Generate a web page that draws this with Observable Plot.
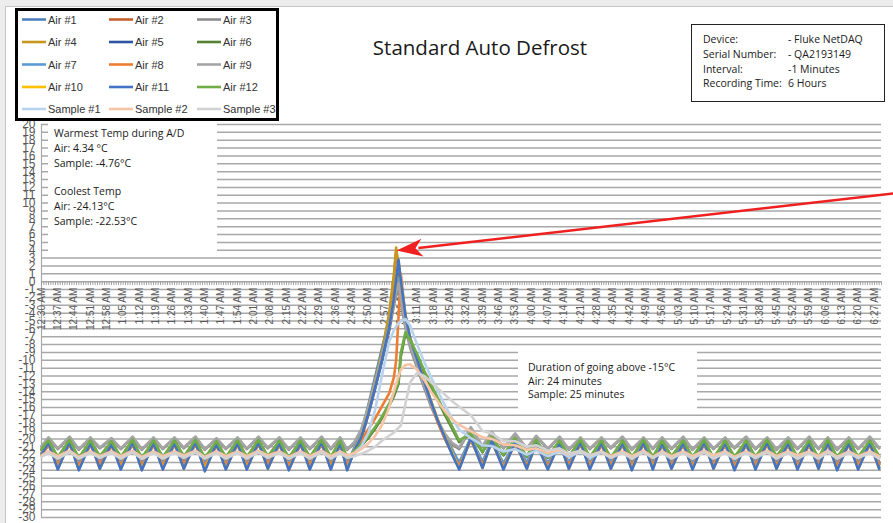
<!DOCTYPE html>
<html><head><meta charset="utf-8">
<script src="https://cdn.jsdelivr.net/npm/d3@7"></script>
<script src="https://cdn.jsdelivr.net/npm/@observablehq/plot@0.6"></script>
<style>
html,body{margin:0;padding:0;background:#ececec;}
#wrap{position:relative;width:893px;height:523px;overflow:hidden;background:#ececec;}
#card{position:absolute;left:5px;top:6px;width:900px;height:600px;background:#fff;border:1px solid #c4c4c4;}
#chart{position:absolute;left:0;top:0;}
</style></head><body>
<div id="wrap"><div id="card"></div><div id="chart"></div></div>
<script>
// minutes after 12:30 AM at which values were read (peaks, troughs, defrost points)
const minutes = [0,3,7,12,16,21,25,30,34,39,43,48,52,57,61,66,70,75,79,84,88,93,97,102,106,111,115,120,124,128,131,
  134,137,140,143,146,149,151,152,153,154,156,158,161,164,167,170,173,176,
  179,184,189,193,198,203,208,212,217,222,226,231,235,240,244,249,253,258,262,266,270,275,279,284,288,293,297,302,306,311,315,320,324,329,333,337,341,346,350,355,359];

const seriesNames = ["Air #1","Air #2","Air #3","Air #4","Air #5","Air #6","Air #7","Air #8","Air #9","Air #10","Air #11","Air #12","Sample #1","Sample #2","Sample #3"];
const seriesColors = ["#4f81bd","#c65f2c","#8c8c8c","#c8961e","#2e54a0","#548235","#5b9bd5","#ed7d31","#a5a5a5","#ffc000","#4472c4","#70ad47","#b9d3ee","#f7c4a6","#d2d2d2"];

const air1 = [-21.9, -20.6,-23.3, -20.5,-23.4, -20.6,-23.2, -20.7,-23.3, -20.5,-23.4, -20.6,-23.3, -20.6,-23.2, -20.5,-23.4, -20.7,-23.3, -20.6,-23.3, -20.5,-23.2, -20.6,-23.4, -20.6,-23.3, -20.5,-23.3, -20.6,-23.4,
  -21.3,-19.2,-15.8,-12.1,-8.4,-4.6,-1.9,-0.3,0.9,-1.6,-5.2,-7.8,-10.4,-13.0,-15.6,-17.9,-19.9,-21.6,
  -23.3, -19.9,-23.2, -20.2,-23.4, -20.4,-23.3, -20.5,-23.4, -20.6,-23.3, -20.5,-23.4, -20.6,-23.3, -20.6,-23.4, -20.5,-23.3, -20.6,-23.3, -20.6,-23.4, -20.5,-23.3, -20.6,-23.4, -20.6,-23.3, -20.5,-23.3, -20.6,-23.4, -20.6,-23.3, -20.5,-23.4, -20.6,-23.3, -20.6,-23.2];
const air2 = [-22.0, -20.8,-23.1, -20.7,-23.2, -20.8,-23.0, -20.9,-23.1, -20.7,-23.2, -20.8,-23.1, -20.8,-23.0, -20.7,-23.2, -20.9,-23.1, -20.8,-23.1, -20.7,-23.0, -20.8,-23.2, -20.8,-23.1, -20.7,-23.1, -20.8,-23.2,
  -21.4,-19.8,-16.6,-12.9,-9.2,-4.4,0.4,3.9,1.8,-1.8,-5.0,-7.6,-10.2,-12.9,-15.5,-17.9,-19.9,-21.5,
  -23.1, -20.1,-23.0, -20.4,-23.2, -20.6,-23.1, -20.7,-23.2, -20.8,-23.1, -20.7,-23.2, -20.8,-23.1, -20.8,-23.2, -20.7,-23.1, -20.8,-23.1, -20.8,-23.2, -20.7,-23.1, -20.8,-23.2, -20.8,-23.1, -20.7,-23.1, -20.8,-23.2, -20.8,-23.1, -20.7,-23.2, -20.8,-23.1, -20.8,-23.0];
const air3 = [-21.0, -19.9,-21.3, -19.8,-21.4, -19.9,-21.2, -20.0,-21.3, -19.8,-21.4, -19.9,-21.3, -19.9,-21.2, -19.8,-21.4, -20.0,-21.3, -19.9,-21.3, -19.8,-21.2, -19.9,-21.4, -19.9,-21.3, -19.8,-21.3, -19.9,-21.4,
  -20.6,-19.3,-16.6,-13.3,-9.9,-6.3,-3.1,-1.7,-0.6,-2.6,-5.9,-8.4,-11.0,-13.5,-15.9,-17.9,-19.6,-20.7,
  -21.3, -18.6,-21.0, -19.2,-21.2, -19.4,-21.3, -19.7,-21.3, -19.8,-21.4, -19.9,-21.3, -19.9,-21.2, -19.8,-21.4, -19.9,-21.3, -19.9,-21.3, -19.8,-21.4, -19.9,-21.3, -19.9,-21.2, -19.8,-21.3, -19.9,-21.4, -19.9,-21.3, -19.8,-21.3, -19.9,-21.4, -19.9,-21.3, -19.8,-21.2];
const air4 = [-21.8, -20.5,-23.4, -20.4,-23.5, -20.5,-23.3, -20.6,-23.4, -20.4,-23.5, -20.5,-23.4, -20.5,-23.3, -20.4,-23.5, -20.6,-23.4, -20.5,-23.4, -20.4,-23.3, -20.5,-23.5, -20.5,-23.4, -20.4,-23.4, -20.5,-23.5,
  -21.2,-19.5,-16.2,-12.5,-8.8,-4.0,0.8,4.34,2.0,-1.6,-4.9,-7.5,-10.0,-12.7,-15.3,-17.7,-19.7,-21.3,
  -23.4, -19.8,-23.3, -20.1,-23.5, -20.3,-23.4, -20.4,-23.5, -20.5,-23.4, -20.4,-23.5, -20.5,-23.4, -20.5,-23.5, -20.4,-23.4, -20.5,-23.4, -20.5,-23.5, -20.4,-23.4, -20.5,-23.5, -20.5,-23.4, -20.4,-23.4, -20.5,-23.5, -20.5,-23.4, -20.4,-23.5, -20.5,-23.4, -20.5,-23.3];
const air5 = [-22.0, -20.5,-23.7, -20.4,-23.8, -20.5,-23.6, -20.6,-23.7, -20.4,-23.8, -20.5,-23.7, -20.5,-23.6, -20.4,-23.8, -20.6,-23.7, -20.5,-23.7, -20.4,-23.6, -20.5,-23.8, -20.5,-23.7, -20.4,-23.7, -20.5,-23.8,
  -21.6,-20.0,-17.0,-13.6,-10.0,-6.0,-2.4,0.0,2.4,0.0,-4.5,-7.3,-10.0,-12.8,-15.4,-17.9,-20.0,-21.8,
  -23.7, -19.9,-23.5, -20.2,-23.7, -20.4,-23.6, -20.5,-23.7, -20.5,-23.6, -20.4,-23.7, -20.5,-23.6, -20.5,-23.8, -20.4,-23.7, -20.5,-23.6, -20.5,-23.7, -20.4,-23.6, -20.5,-23.8, -20.5,-23.7, -20.4,-23.6, -20.5,-23.7, -20.5,-23.6, -20.4,-23.8, -20.5,-23.7, -20.5,-23.6];
const air6 = [-21.4, -20.3,-22.4, -20.2,-22.5, -20.3,-22.3, -20.4,-22.4, -20.2,-22.5, -20.3,-22.4, -20.3,-22.3, -20.2,-22.5, -20.4,-22.4, -20.3,-22.4, -20.2,-22.3, -20.3,-22.5, -20.3,-22.4, -20.2,-22.4, -20.3,-22.5,
  -21.7,-20.9,-19.9,-18.7,-17.3,-15.8,-14.6,-13.8,-13.0,-9.5,-6.6,-7.7,-9.5,-11.6,-13.4,-15.2,-17.0,-18.7,
  -20.4, -19.4,-21.7, -19.8,-22.1, -20.0,-22.3, -20.2,-22.4, -20.3,-22.3, -20.2,-22.4, -20.3,-22.5, -20.3,-22.4, -20.2,-22.4, -20.3,-22.3, -20.3,-22.4, -20.2,-22.5, -20.3,-22.4, -20.3,-22.4, -20.2,-22.3, -20.3,-22.4, -20.3,-22.5, -20.2,-22.4, -20.3,-22.4, -20.3,-22.3];
const air7 = [-21.8, -20.6,-23.0, -20.5,-23.1, -20.6,-22.9, -20.7,-23.0, -20.5,-23.1, -20.6,-23.0, -20.6,-22.9, -20.5,-23.1, -20.7,-23.0, -20.6,-23.0, -20.5,-22.9, -20.6,-23.1, -20.6,-23.0, -20.5,-23.0, -20.6,-23.1,
  -21.2,-19.4,-16.3,-12.8,-9.2,-5.4,-2.2,-0.8,0.4,-2.0,-5.0,-7.7,-10.3,-12.9,-15.4,-17.8,-19.7,-21.4,
  -23.0, -19.9,-22.9, -20.2,-23.1, -20.4,-23.0, -20.5,-23.1, -20.6,-23.0, -20.5,-23.1, -20.6,-23.0, -20.6,-23.1, -20.5,-23.0, -20.6,-23.0, -20.6,-23.1, -20.5,-23.0, -20.6,-23.1, -20.6,-23.0, -20.5,-23.0, -20.6,-23.1, -20.6,-23.0, -20.5,-23.1, -20.6,-23.0, -20.6,-22.9];
const air8 = [-22.0, -20.8,-23.3, -20.7,-23.4, -20.8,-23.2, -20.9,-23.3, -20.7,-23.4, -20.8,-23.3, -20.8,-23.2, -20.7,-23.4, -20.9,-23.3, -20.8,-23.3, -20.7,-23.2, -20.8,-23.4, -20.8,-23.3, -20.7,-23.3, -20.8,-23.4,
  -21.5,-20.2,-18.8,-17.4,-15.8,-14.2,-12.2,-10.0,-4.5,1.0,-4.8,-7.6,-10.3,-13.0,-15.6,-18.0,-20.1,-21.9,
  -23.4, -20.2,-23.3, -20.5,-23.5, -20.7,-23.4, -20.8,-23.4, -20.8,-23.3, -20.7,-23.4, -20.8,-23.3, -20.8,-23.4, -20.7,-23.3, -20.8,-23.3, -20.8,-23.4, -20.7,-23.3, -20.8,-23.4, -20.8,-23.3, -20.7,-23.3, -20.8,-23.4, -20.8,-23.3, -20.7,-23.4, -20.8,-23.3, -20.8,-23.2];
const air9 = [-20.9, -19.8,-21.2, -19.7,-21.3, -19.8,-21.1, -19.9,-21.2, -19.7,-21.3, -19.8,-21.2, -19.8,-21.1, -19.7,-21.3, -19.9,-21.2, -19.8,-21.2, -19.7,-21.1, -19.8,-21.3, -19.8,-21.2, -19.7,-21.2, -19.8,-21.3,
  -20.4,-18.8,-16.0,-12.7,-9.3,-5.8,-2.8,-1.2,-0.2,-2.2,-5.6,-8.1,-10.7,-13.2,-15.6,-17.7,-19.4,-20.5,
  -21.1, -18.5,-20.9, -19.1,-21.1, -19.3,-21.2, -19.6,-21.2, -19.7,-21.3, -19.8,-21.2, -19.8,-21.1, -19.7,-21.3, -19.8,-21.2, -19.8,-21.2, -19.7,-21.3, -19.8,-21.2, -19.8,-21.1, -19.7,-21.2, -19.8,-21.3, -19.8,-21.2, -19.7,-21.2, -19.8,-21.3, -19.8,-21.2, -19.7,-21.1];
const air10 = [-21.9, -20.5,-23.8, -20.4,-23.9, -20.5,-23.8, -20.6,-23.8, -20.4,-23.9, -20.5,-23.8, -20.5,-23.8, -20.4,-23.9, -20.6,-23.8, -20.5,-23.8, -20.4,-23.8, -20.5,-23.9, -20.5,-23.8, -20.4,-23.8, -20.5,-23.9,
  -21.4,-19.7,-16.7,-13.3,-9.7,-5.7,-2.1,0.4,2.7,0.3,-4.2,-7.1,-9.8,-12.6,-15.2,-17.7,-19.8,-21.8,
  -23.8, -19.9,-23.7, -20.2,-23.8, -20.4,-23.8, -20.5,-23.8, -20.5,-23.8, -20.4,-23.8, -20.5,-23.8, -20.5,-23.9, -20.4,-23.8, -20.5,-23.8, -20.5,-23.8, -20.4,-23.8, -20.5,-23.9, -20.5,-23.8, -20.4,-23.8, -20.5,-23.8, -20.5,-23.8, -20.4,-23.9, -20.5,-23.8, -20.5,-23.8];
const air11 = [-22.0, -20.5,-23.9, -20.4,-24.0, -20.5,-23.8, -20.6,-23.9, -20.4,-24.0, -20.5,-23.9, -20.5,-23.8, -20.4,-24.13, -20.6,-23.9, -20.5,-23.9, -20.4,-23.8, -20.5,-24.0, -20.5,-23.9, -20.4,-23.9, -20.5,-24.0,
  -21.5,-19.8,-16.8,-13.4,-9.8,-5.8,-2.2,0.3,2.8,0.2,-4.3,-7.2,-9.9,-12.7,-15.3,-17.8,-19.9,-22.0,
  -23.9, -19.9,-23.7, -20.2,-23.9, -20.4,-23.8, -20.5,-23.9, -20.5,-23.8, -20.4,-23.9, -20.5,-23.8, -20.5,-24.0, -20.4,-23.9, -20.5,-23.8, -20.5,-23.9, -20.4,-23.8, -20.5,-24.0, -20.5,-23.9, -20.4,-23.8, -20.5,-23.9, -20.5,-23.8, -20.4,-24.0, -20.5,-23.9, -20.5,-23.8];
const air12 = [-21.3, -20.2,-22.3, -20.1,-22.4, -20.2,-22.2, -20.3,-22.3, -20.1,-22.4, -20.2,-22.3, -20.2,-22.2, -20.1,-22.4, -20.3,-22.3, -20.2,-22.3, -20.1,-22.2, -20.2,-22.4, -20.2,-22.3, -20.1,-22.3, -20.2,-22.4,
  -21.6,-20.7,-19.7,-18.5,-17.1,-15.5,-14.3,-13.5,-12.7,-9.0,-6.4,-7.4,-9.2,-11.3,-13.1,-14.9,-16.7,-18.4,
  -20.2, -19.3,-21.6, -19.7,-22.0, -19.9,-22.2, -20.1,-22.3, -20.2,-22.2, -20.1,-22.3, -20.2,-22.4, -20.2,-22.3, -20.1,-22.3, -20.2,-22.2, -20.2,-22.3, -20.1,-22.4, -20.2,-22.3, -20.2,-22.3, -20.1,-22.2, -20.2,-22.3, -20.2,-22.4, -20.1,-22.3, -20.2,-22.3, -20.2,-22.2];
const sample1 = [-22.2, -21.7,-22.4, -21.6,-22.4, -21.7,-22.3, -21.7,-22.4, -21.6,-22.5, -21.7,-22.4, -21.7,-22.3, -21.6,-22.4, -21.7,-22.4, -21.7,-22.4, -21.6,-22.3, -21.7,-22.5, -21.7,-22.4, -21.6,-22.4, -21.7,-22.3,
  -21.8,-21.0,-19.3,-16.3,-11.8,-7.6,-6.2,-5.7,-5.3,-5.0,-4.76,-5.6,-8.0,-10.2,-12.2,-14.0,-15.8,-17.4,
  -18.8, -19.9,-20.8, -20.9,-21.6, -21.3,-22.0, -21.5,-22.2, -21.6,-22.3, -21.6,-22.4, -21.7,-22.3, -21.7,-22.4, -21.6,-22.4, -21.7,-22.3, -21.7,-22.4, -21.6,-22.4, -21.7,-22.5, -21.7,-22.4, -21.6,-22.3, -21.7,-22.4, -21.7,-22.4, -21.6,-22.3, -21.7,-22.4, -21.7,-22.4];
const sample2 = [-22.1, -21.6,-22.2, -21.5,-22.3, -21.6,-22.2, -21.6,-22.2, -21.5,-22.3, -21.6,-22.2, -21.6,-22.1, -21.5,-22.3, -21.6,-22.2, -21.6,-22.2, -21.5,-22.1, -21.6,-22.3, -21.6,-22.2, -21.5,-22.2, -21.6,-22.1,
  -21.8,-21.3,-20.6,-19.6,-18.2,-16.0,-14.0,-13.0,-12.0,-11.2,-10.6,-10.5,-11.2,-12.5,-14.0,-15.3,-16.5,-17.5,
  -18.2, -19.0,-19.8, -20.0,-20.7, -20.8,-21.4, -21.2,-21.8, -21.4,-22.0, -21.5,-22.1, -21.6,-22.2, -21.6,-22.2, -21.5,-22.3, -21.6,-22.2, -21.6,-22.2, -21.5,-22.1, -21.6,-22.3, -21.6,-22.2, -21.5,-22.2, -21.6,-22.1, -21.6,-22.2, -21.5,-22.3, -21.6,-22.2, -21.6,-22.2];
const sample3 = [-22.3, -21.8,-22.5, -21.7,-22.5, -21.8,-22.4, -21.8,-22.5, -21.7,-22.53, -21.8,-22.5, -21.8,-22.4, -21.7,-22.5, -21.8,-22.5, -21.8,-22.5, -21.7,-22.4, -21.8,-22.5, -21.8,-22.5, -21.7,-22.5, -21.8,-22.4,
  -22.2,-21.9,-21.5,-21.0,-20.2,-19.6,-19.2,-18.9,-18.6,-18.3,-15.5,-12.8,-11.6,-12.0,-12.8,-13.6,-14.4,-15.2,
  -15.9, -17.0,-19.0, -19.3,-20.3, -20.3,-21.0, -20.8,-21.5, -21.2,-21.9, -21.5,-22.1, -21.7,-22.4, -21.8,-22.5, -21.7,-22.4, -21.8,-22.5, -21.8,-22.5, -21.7,-22.5, -21.8,-22.5, -21.8,-22.4, -21.7,-22.5, -21.8,-22.5, -21.8,-22.5, -21.7,-22.5, -21.8,-22.4, -21.8,-22.5];

const yTicks = [20,19,18,17,16,15,14,13,12,11,10,9,8,7,6,5,4,3,2,1,0,-1,-2,-3,-4,-5,-6,-7,-8,-9,-10,-11,-12,-13,-14,-15,-16,-17,-18,-19,-20,-21,-22,-23,-24,-25,-26,-27,-28,-29,-30];
const xTickLabels = ["12:30 AM","12:37 AM","12:44 AM","12:51 AM","12:58 AM","1:05 AM","1:12 AM","1:19 AM","1:26 AM","1:33 AM","1:40 AM","1:47 AM","1:54 AM","2:01 AM","2:08 AM","2:15 AM","2:22 AM","2:29 AM","2:36 AM","2:43 AM","2:50 AM","2:57 AM","3:04 AM","3:11 AM","3:18 AM","3:25 AM","3:32 AM","3:39 AM","3:46 AM","3:53 AM","4:00 AM","4:07 AM","4:14 AM","4:21 AM","4:28 AM","4:35 AM","4:42 AM","4:49 AM","4:56 AM","5:03 AM","5:10 AM","5:17 AM","5:24 AM","5:31 AM","5:38 AM","5:45 AM","5:52 AM","5:59 AM","6:06 AM","6:13 AM","6:20 AM","6:27 AM"];
const xTickStep = 7; // minutes between labels

const seriesValues = [air1,air2,air3,air4,air5,air6,air7,air8,air9,air10,air11,air12,sample1,sample2,sample3];
const table = seriesNames.flatMap((name, i) => {
  const vals = seriesValues[i];
  const n = Math.min(vals.length, minutes.length);
  return d3.range(n).map(j => ({series: name, t: minutes[j], v: vals[j]}));
});

const plot = Plot.plot({
  width: 893, height: 523,
  marginLeft: 41, marginRight: 12, marginTop: 124, marginBottom: 6,
  x: {domain: [0, 360], axis: null},
  y: {domain: [-30, 20], axis: null},
  color: {domain: seriesNames, range: seriesColors},
  style: {background: "transparent", fontFamily: "Liberation Sans, Arial, sans-serif", overflow: "visible"},
  marks: [
    Plot.ruleY(yTicks, {stroke: "#a8a8a8", strokeWidth: 1.5}),
    Plot.ruleX([0], {stroke: "#a8a8a8", strokeWidth: 1.2}),
    Plot.ruleX(d3.range(0, 361), {y1: 0, y2: -0.5, stroke: "#9a9a9a", strokeWidth: 0.9}),
    Plot.text(yTicks, {x: 0, y: d => d, text: d => String(d), textAnchor: "end", dx: -6, fontSize: 12, fill: "#595959"}),
    Plot.text(xTickLabels, {x: (d, i) => i * xTickStep, y: 0, text: d => d, rotate: -90, textAnchor: "end", dy: 6, fontSize: 10, fill: "#595959"}),
    Plot.line(table, {x: "t", y: "v", z: "series", stroke: "series", strokeWidth: 2.6, strokeLinejoin: "round", strokeLinecap: "round"})
  ]
});
document.getElementById("chart").appendChild(plot);

const svg = d3.select(plot);
const lineG = plot.querySelector('g[aria-label="line"]');
const annotFont = "'Open Sans', sans-serif";
const addText = (g, x, y, s, size, family, anchor = "start") =>
  g.append("text").attr("x", x).attr("y", y).attr("text-anchor", anchor).attr("font-family", family).attr("font-size", size).attr("fill", "#1a1a1a").text(s);

// annotation boxes (beneath lines)
const ann = d3.select(plot.insertBefore(document.createElementNS("http://www.w3.org/2000/svg", "g"), lineG));
ann.append("rect").attr("x", 48).attr("y", 121).attr("width", 169).attr("height", 132).attr("fill", "#fff");
const ann1 = ["Warmest Temp during A/D", "Air: 4.34 °C", "Sample: -4.76°C", "", "Coolest Temp", "Air: -24.13°C", "Sample: -22.53°C"];
const ann1y = [137, 152, 167, 181, 195, 210, 225];
ann1.forEach((s, i) => { if (s) addText(ann, 54, ann1y[i], s, 10.5, annotFont); });
ann.append("rect").attr("x", 518).attr("y", 350).attr("width", 179).attr("height", 61).attr("fill", "#fff");
const ann2 = ["Duration of going above -15°C", "Air: 24 minutes", "Sample: 25 minutes"];
ann2.forEach((s, i) => addText(ann, 528, 371 + i * 13.5, s, 10.5, annotFont));

// red arrow pointing at the peak
const xs = plot.scale("x"), ys = plot.scale("y");
const arrowFrom = {t: 366, v: 11.2}, arrowTo = {t: 152.4, v: 3.9};
const ax1 = xs.apply(arrowFrom.t), ay1 = ys.apply(arrowFrom.v), ax2 = xs.apply(arrowTo.t), ay2 = ys.apply(arrowTo.v);
const ang = Math.atan2(ay2 - ay1, ax2 - ax1), hl = 26, hw = 9;
const bx = ax2 - hl * Math.cos(ang), by = ay2 - hl * Math.sin(ang);
const arr = svg.append("g");
arr.append("line").attr("x1", ax1).attr("y1", ay1).attr("x2", bx + 4 * Math.cos(ang)).attr("y2", by + 4 * Math.sin(ang)).attr("stroke", "#f02020").attr("stroke-width", 2.5);
arr.append("path").attr("fill", "#f02020").attr("d",
  `M${ax2},${ay2}L${bx + hw * Math.sin(ang)},${by - hw * Math.cos(ang)}L${bx + 7 * Math.cos(ang)},${by + 7 * Math.sin(ang)}L${bx - hw * Math.sin(ang)},${by + hw * Math.cos(ang)}Z`);

// title
addText(svg, 480, 55, "Standard Auto Defrost", 20.5, annotFont, "middle");

// info box
const info = svg.append("g");
info.append("rect").attr("x", 691.5).attr("y", 24.5).attr("width", 193).attr("height", 77).attr("fill", "#fff").attr("stroke", "#222").attr("stroke-width", 1);
const infoL = ["Device:", "Serial Number:", "Interval:", "Recording Time:"];
const infoR = ["- Fluke NetDAQ", "- QA2193149", "-1 Minutes", "6 Hours"];
infoL.forEach((s, i) => {
  addText(info, 703, 43 + i * 14.8, s, 10.5, annotFont);
  addText(info, 788, 43 + i * 14.8, infoR[i], 10.5, annotFont);
});

// legend
const lg = svg.append("g");
lg.append("rect").attr("x", 16.5).attr("y", 9.5).attr("width", 261).attr("height", 110).attr("fill", "#fff").attr("stroke", "#000").attr("stroke-width", 3);
const lgX = [22, 109, 197], lgY = [19.5, 42, 64.5, 87, 109];
seriesNames.forEach((n, i) => {
  const x0 = lgX[i % 3], y0 = lgY[Math.floor(i / 3)];
  lg.append("line").attr("x1", x0).attr("x2", x0 + 24).attr("y1", y0).attr("y2", y0).attr("stroke", seriesColors[i]).attr("stroke-width", 2.6);
  addText(lg, x0 + 26, y0 + 4, n, 11, "Liberation Sans, Arial, sans-serif").attr("fill", "#333");
});
</script></body></html>
